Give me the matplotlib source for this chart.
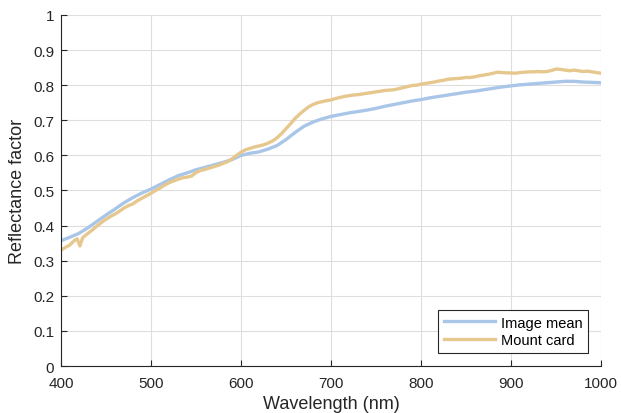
import numpy as np
import matplotlib.pyplot as plt

plt.rcParams['font.family'] = ['Liberation Sans', 'DejaVu Sans']

# Image mean (blue)
wl_mean = [400, 410, 420, 430, 440, 450, 460, 470, 480, 490, 500, 510, 520, 530, 540,
           550, 560, 570, 580, 590, 600, 610, 620, 630, 640, 650, 660, 670, 680, 690,
           700, 710, 720, 730, 740, 750, 760, 770, 780, 790, 800, 810, 820, 830, 840,
           850, 860, 870, 880, 890, 900, 910, 920, 930, 940, 950, 960, 970, 980, 990, 1000]
refl_mean = [0.357, 0.367, 0.378, 0.394, 0.412, 0.430, 0.447, 0.465, 0.480, 0.493,
             0.504, 0.517, 0.530, 0.542, 0.550, 0.559, 0.566, 0.573, 0.580, 0.588,
             0.600, 0.606, 0.610, 0.618, 0.628, 0.645, 0.665, 0.683, 0.695, 0.704,
             0.711, 0.716, 0.721, 0.725, 0.729, 0.734, 0.740, 0.745, 0.750, 0.755,
             0.759, 0.764, 0.768, 0.772, 0.776, 0.780, 0.783, 0.787, 0.791, 0.795,
             0.798, 0.801, 0.803, 0.805, 0.807, 0.809, 0.811, 0.811, 0.809, 0.808, 0.807]

# Mount card (orange)
wl_card = [400, 405, 410, 415, 418, 421, 424, 427, 430, 435, 440, 445, 450, 455, 460,
           465, 470, 475, 480, 485, 490, 495, 500, 505, 510, 515, 520, 525, 530, 535,
           540, 545, 550, 555, 560, 565, 570, 575, 580, 585, 590, 595, 600, 605, 610,
           615, 620, 625, 630, 635, 640, 645, 650, 655, 660, 665, 670, 675, 680, 685,
           690, 695, 700, 705, 710, 715, 720, 725, 730, 735, 740, 745, 750, 755, 760,
           765, 770, 775, 780, 785, 790, 795, 800, 805, 810, 815, 820, 825, 830, 835,
           840, 845, 850, 855, 860, 865, 870, 875, 880, 885, 890, 895, 900, 905, 910,
           915, 920, 925, 930, 935, 940, 945, 950, 955, 960, 965, 970, 975, 980, 985,
           990, 995, 1000]
refl_card = [0.330, 0.338, 0.345, 0.358, 0.362, 0.342, 0.365, 0.372, 0.378, 0.388,
             0.399, 0.409, 0.418, 0.426, 0.433, 0.441, 0.450, 0.457, 0.462, 0.471,
             0.478, 0.485, 0.492, 0.500, 0.507, 0.515, 0.522, 0.527, 0.532, 0.536,
             0.538, 0.541, 0.551, 0.557, 0.560, 0.564, 0.568, 0.572, 0.577, 0.582,
             0.590, 0.600, 0.609, 0.616, 0.620, 0.624, 0.627, 0.630, 0.635, 0.641,
             0.650, 0.662, 0.676, 0.690, 0.705, 0.717, 0.728, 0.738, 0.745, 0.750,
             0.753, 0.756, 0.758, 0.762, 0.765, 0.768, 0.770, 0.772, 0.773, 0.775,
             0.777, 0.779, 0.781, 0.783, 0.785, 0.786, 0.787, 0.790, 0.793, 0.796,
             0.799, 0.800, 0.803, 0.805, 0.807, 0.809, 0.812, 0.814, 0.817, 0.818,
             0.819, 0.820, 0.822, 0.822, 0.824, 0.827, 0.829, 0.831, 0.834, 0.837,
             0.836, 0.835, 0.835, 0.834, 0.836, 0.837, 0.838, 0.838, 0.839, 0.838,
             0.839, 0.842, 0.846, 0.845, 0.843, 0.841, 0.843, 0.841, 0.839, 0.840,
             0.838, 0.836, 0.834]

fig = plt.figure(figsize=(6.21, 4.14), dpi=100)
ax = fig.add_axes([0.0982, 0.1135, 0.8696, 0.8479])

ax.plot(wl_mean, refl_mean, color='#a9c6e8', linewidth=2.4, label='Image mean')
ax.plot(wl_card, refl_card, color='#e6c88e', linewidth=2.4, label='Mount card')

ax.set_xlim(400, 1000)
ax.set_ylim(0, 1)
ax.set_xticks(np.arange(400, 1001, 100))
ax.set_yticks(np.arange(0, 1.01, 0.1))
ax.set_yticklabels(['0', '0.1', '0.2', '0.3', '0.4', '0.5', '0.6', '0.7', '0.8', '0.9', '1'])
ax.grid(True, color='#dedede', linewidth=0.8)
ax.set_axisbelow(True)

for s in ['top', 'right']:
    ax.spines[s].set_visible(False)
for s in ['left', 'bottom']:
    ax.spines[s].set_color('#262626')
    ax.spines[s].set_linewidth(0.8)
ax.tick_params(direction='in', length=4, width=0.8, colors='#262626', labelsize=11,
               top=False, right=False)
ax.tick_params(axis='x', pad=7)
ax.tick_params(axis='y', pad=5)

ax.set_xlabel('Wavelength (nm)', fontsize=13, color='#262626', labelpad=4)
ax.set_ylabel('Reflectance factor', fontsize=13, color='#262626', labelpad=5)

leg = ax.legend(loc='lower right', bbox_to_anchor=(0.976, 0.037), fontsize=10.5,
                fancybox=False, framealpha=1, edgecolor='#262626', handlelength=3.5,
                borderaxespad=0, borderpad=0.4, labelspacing=0.25, handletextpad=0.4)
leg.get_frame().set_linewidth(0.8)

fig.savefig('out.png', dpi=100)
